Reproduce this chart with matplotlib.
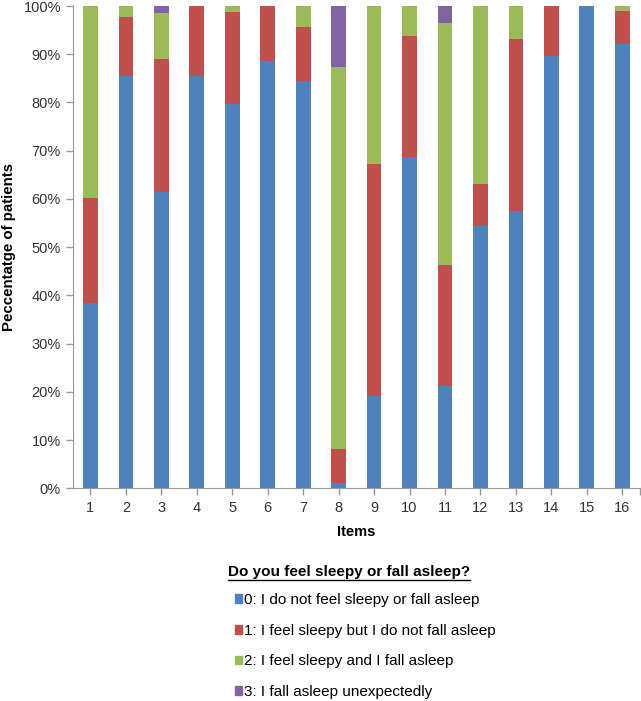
import numpy as np
import matplotlib
matplotlib.use('Agg')
import matplotlib.pyplot as plt
import matplotlib.patches as mpatches
from matplotlib.lines import Line2D

plt.rcParams['font.family'] = ['Liberation Sans', 'DejaVu Sans']

items = [str(i) for i in range(1, 17)]
score0 = [38.5, 85.5, 61.5, 85.5, 79.6, 88.7, 84.4, 1.1, 19.2, 68.7, 21.2, 54.4, 57.4, 89.6, 100.0, 92.1]
score1 = [21.7, 12.3, 27.5, 14.5, 19.2, 11.3, 11.3, 7.0, 48.0, 25.1, 25.1, 8.7, 35.8, 10.4, 0.0, 6.8]
score2 = [39.8, 2.2, 9.5, 0.0, 1.2, 0.0, 4.3, 79.2, 32.8, 6.2, 50.1, 36.9, 6.8, 0.0, 0.0, 1.1]
score3 = [0.0, 0.0, 1.5, 0.0, 0.0, 0.0, 0.0, 12.7, 0.0, 0.0, 3.6, 0.0, 0.0, 0.0, 0.0, 0.0]

labels = ['0: I do not feel sleepy or fall asleep',
          '1: I feel sleepy but I do not fall asleep',
          '2: I feel sleepy and I fall asleep',
          '3: I fall asleep unexpectedly']
colors = ['#4F81BD', '#C0504D', '#9BBB59', '#8064A2']

fig = plt.figure(figsize=(6.41, 7.01), dpi=100)
ax = fig.add_axes([0.1134, 0.3034, 0.8851, 0.688])

x = np.arange(len(items))
bottom = np.zeros(len(items))
for vals, col in zip([score0, score1, score2, score3], colors):
    ax.bar(x, vals, width=0.415, bottom=bottom, color=col, edgecolor='none')
    bottom += np.array(vals)

ax.set_xlim(-0.5, len(items) - 0.5)
ax.set_ylim(0, 100)
ax.set_yticks(np.arange(0, 101, 10))
ax.set_yticklabels([f'{v}%' for v in range(0, 101, 10)])
ax.set_xticks(x)
ax.set_xticklabels(items)
ax.set_xticks([len(items) - 0.5], minor=True)
ax.tick_params(axis='both', which='both', labelsize=10.5, colors='#999999', labelcolor='#333333', length=5, width=1)
ax.tick_params(axis='x', pad=4)
for s in ['top', 'right']:
    ax.spines[s].set_visible(False)
for s in ['left', 'bottom']:
    ax.spines[s].set_color('#999999')
ax.set_xlabel('Items', fontsize=10.5, fontweight='bold', labelpad=7)
ax.set_ylabel('Peccentatge of patients', fontsize=10.8, fontweight='bold', va='center')
ax.yaxis.set_label_coords(-0.112, 0.5)

# legend title, underlined
title = fig.text(0.355, 1 - 572 / 701, 'Do you feel sleepy or fall asleep?',
                 fontsize=11, fontweight='bold', va='center', ha='left')
fig.canvas.draw()
bb = title.get_window_extent(fig.canvas.get_renderer())
y_ul = bb.y0 - 1
fig.add_artist(Line2D([bb.x0 / 641, bb.x1 / 641], [y_ul / 701, y_ul / 701],
                      transform=fig.transFigure, color='black', lw=1))

handles = [mpatches.Patch(color=c) for c in colors]
fig.legend(handles, labels, loc='upper left', bbox_to_anchor=(0.366, 1 - 593 / 701),
           frameon=False, fontsize=11, handlelength=0.5, handleheight=0.5,
           handletextpad=0.12, labelspacing=1.09, borderpad=0, borderaxespad=0)

fig.savefig('out.png', dpi=100)
